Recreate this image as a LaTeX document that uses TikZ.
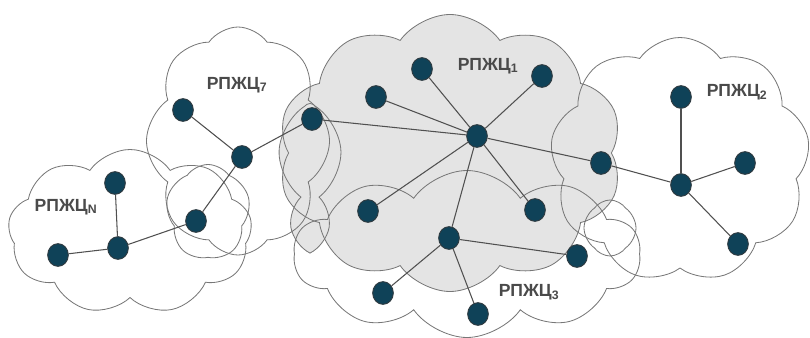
\documentclass[tikz,border=0pt]{standalone}
\usepackage{fontspec}
\setmainfont{Liberation Sans}
\usetikzlibrary{shapes.symbols,shapes.geometric}
\definecolor{hostcol}{HTML}{0F4258}
\definecolor{rimcol}{HTML}{2E3A40}
\definecolor{zonecol}{HTML}{E4E4E4}
\definecolor{linecol}{HTML}{505050}
\definecolor{edgecol}{HTML}{777777}
\definecolor{txtcol}{HTML}{4A4A4A}

\begin{document}
\begin{tikzpicture}[x=0.03cm, y=-0.03cm,
	host/.style={ellipse, fill=hostcol, draw=rimcol, line width=0.8pt, minimum width=0.62cm, minimum height=0.68cm, inner sep=0pt},
	link/.style={draw=linecol, line width=0.9pt},
	zone/.style={cloud, cloud puffs=#1, cloud puff arc=110, cloud ignores aspect, inner sep=0pt},
	tag/.style={font=\bfseries\fontsize{15}{18}\selectfont, text=txtcol}]

	\useasboundingbox (0,0) rectangle (810,338);

	% clouds: fills first, outlines afterwards
	\foreach \nm/\x/\y/\w/\h/\p/\c in {zN/130/232/244/165/9/white, z7/238/141/183/228/8/white,
		z7b/208/212/85/95/5/white, z3/467/254/347/167/10/white, z2/680/160/260/245/9/white,
		z2b/610/228/52/56/4/white, z1/450/153/345/277/10/zonecol, z1b/310/172/65/137/5/zonecol}
		\node[zone=\p, fill=\c, minimum width=\w*0.03cm, minimum height=\h*0.03cm] (\nm) at (\x,\y) {};
	\foreach \nm/\x/\y/\w/\h/\p in {zN/130/232/244/165/9, z7/238/141/183/228/8,
		z7b/208/212/85/95/5, z3/467/254/347/167/10, z2/680/160/260/245/9,
		z2b/610/228/52/56/4, z1/450/153/345/277/10, z1b/310/172/65/137/5}
		\node[zone=\p, draw=edgecol, line width=0.7pt, minimum width=\w*0.03cm, minimum height=\h*0.03cm] (\nm-rim) at (\x,\y) {};

	% labels
	\node[tag] (tN) at (66,207) {РПЖЦ\textsubscript{N}};
	\node[tag] (t7) at (237,85) {РПЖЦ\textsubscript{7}};
	\node[tag] (t1) at (488,66) {РПЖЦ\textsubscript{1}};
	\node[tag] (t2) at (737,92) {РПЖЦ\textsubscript{2}};
	\node[tag] (t3) at (529,292) {РПЖЦ\textsubscript{3}};

	% hosts
	\node[host] (n1) at (58,255) {};
	\node[host] (n2) at (118,248) {};
	\node[host] (n3) at (115,183) {};
	\node[host] (s1) at (183,110) {};
	\node[host] (s2) at (242,157) {};
	\node[host] (s3) at (196,221) {};
	\node[host] (s4) at (312,119) {};
	\node[host] (hub) at (477,136) {};
	\node[host] (c1) at (376,97) {};
	\node[host] (c2) at (422,69) {};
	\node[host] (c3) at (542,76) {};
	\node[host] (c4) at (368,211) {};
	\node[host] (c5) at (535,210) {};
	\node[host] (c6) at (601,163) {};
	\node[host] (d0) at (449,238) {};
	\node[host] (d1) at (383,293) {};
	\node[host] (d2) at (478,314) {};
	\node[host] (d3) at (577,256) {};
	\node[host] (r0) at (681,185) {};
	\node[host] (r1) at (681,97) {};
	\node[host] (r2) at (745,163) {};
	\node[host] (r3) at (738,244) {};

	% links
	\draw[link] (n1) -- (n2) -- (s3) -- (s2) -- (s1);
	\draw[link] (n3) -- (n2);
	\draw[link] (s2) -- (s4) -- (hub);
	\foreach \t in {c1,c2,c3,c4,c5,c6,d0}
		\draw[link] (hub) -- (\t);
	\foreach \t in {d1,d2,d3}
		\draw[link] (d0) -- (\t);
	\draw[link] (c6) -- (r0);
	\foreach \t in {r1,r2,r3}
		\draw[link] (r0) -- (\t);
\end{tikzpicture}
\end{document}
